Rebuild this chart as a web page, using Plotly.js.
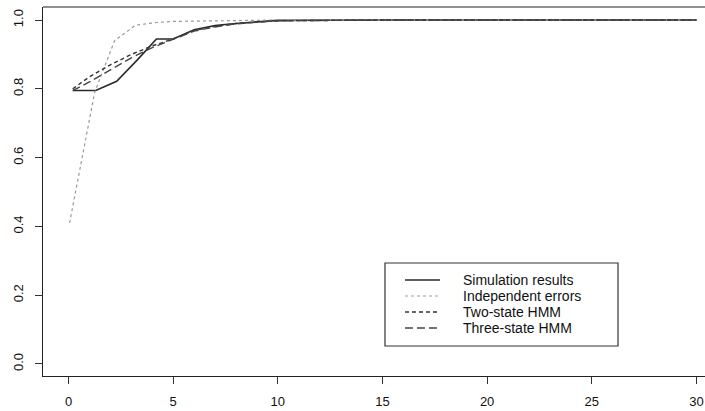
<!DOCTYPE html>
<html>
<head>
<meta charset="utf-8">
<script src="https://cdn.plot.ly/plotly-3.0.1.min.js"></script>
<style>html,body{margin:0;padding:0;background:#fff;overflow:hidden}</style>
</head>
<body>
<div id="chart" style="width:705px;height:411px"></div>
<script>
// Data
const simX = [0.2, 1.3, 2.3, 3.3, 4.2, 5.0, 6, 7, 8, 9, 10, 15, 20, 25, 30];
const simY = [0.795, 0.795, 0.822, 0.885, 0.945, 0.945, 0.972, 0.984, 0.99, 0.995, 0.999, 1.0, 1.0, 1.0, 1.0];

const indX = [0.05, 1.25, 2.2, 3.2, 4.2, 5, 6, 7, 8, 9, 10, 15, 20, 25, 30];
const indY = [0.41, 0.79, 0.94, 0.985, 0.993, 0.996, 0.997, 0.998, 0.999, 0.999, 1.0, 1.0, 1.0, 1.0, 1.0];

const hmmX = [0.2, 1, 2, 3, 4, 5, 6, 7, 8, 9, 10, 15, 20, 25, 30];
const twoY = [0.80, 0.835, 0.87, 0.90, 0.925, 0.945, 0.97, 0.982, 0.99, 0.995, 0.998, 1.0, 1.0, 1.0, 1.0];
const threeY = [0.795, 0.82, 0.855, 0.89, 0.92, 0.943, 0.968, 0.98, 0.989, 0.994, 0.998, 1.0, 1.0, 1.0, 1.0];

const names = ["Simulation results", "Independent errors", "Two-state HMM", "Three-state HMM"];
const xTicks = [0, 5, 10, 15, 20, 25, 30];
const yTicks = [0.0, 0.2, 0.4, 0.6, 0.8, 1.0];
const yTickText = ["0.0", "0.2", "0.4", "0.6", "0.8", "1.0"];

const font = {family: "Liberation Sans, Arial, sans-serif", size: 13, color: "#111"};
const legFont = {family: "Liberation Sans, Arial, sans-serif", size: 14, color: "#111"};

const styles = [
  {color: "#2a2a2a", width: 1.6, dash: "solid"},
  {color: "#999", width: 1.2, dash: "dot"},
  {color: "#333", width: 1.4, dash: "4px,3px"},
  {color: "#444", width: 1.4, dash: "8px,4px"}
];
const xs = [simX, indX, hmmX, hmmX];
const ys = [simY, indY, twoY, threeY];

const traces = names.map((n, i) => ({x: xs[i], y: ys[i], name: n, mode: "lines", line: styles[i]}));

// Manual legend (box, samples, labels) in paper coordinates
const legRows = [0.2602, 0.2168, 0.1734, 0.1301];
const shapes = [
  {type: "line", xref: "paper", yref: "paper", x0: 0, x1: 1, y0: 1, y1: 1, line: {color: "#222", width: 1.2}},
  {type: "rect", xref: "paper", yref: "paper", x0: 0.5166, x1: 0.8686, y0: 0.0813, y1: 0.3062, line: {color: "#333", width: 1.2}}
];
const annotations = [];
names.forEach((n, i) => {
  shapes.push({type: "line", xref: "paper", yref: "paper", x0: 0.5468, x1: 0.5997, y0: legRows[i], y1: legRows[i], line: styles[i]});
  annotations.push({xref: "paper", yref: "paper", x: 0.6314, y: legRows[i], xanchor: "left", yanchor: "middle",
    text: n, showarrow: false, font: legFont});
});

const layout = {
  width: 705, height: 411,
  margin: {l: 43, r: 0, t: 7, b: 35},
  paper_bgcolor: "#fff", plot_bgcolor: "#fff",
  font: font,
  showlegend: false,
  xaxis: {
    range: [-1.22, 30.41], tickvals: xTicks, ticktext: xTicks.map(String),
    showgrid: false, zeroline: false, showline: true, linecolor: "#222", linewidth: 1.2,
    ticks: "outside", ticklen: 7, tickcolor: "#333", tickwidth: 1, tickfont: font, ticklabelstandoff: 6
  },
  yaxis: {
    range: [-0.035, 1.038], tickvals: yTicks, ticktext: yTickText, tickangle: -90,
    showgrid: false, zeroline: false, showline: true, linecolor: "#222", linewidth: 1.2,
    ticks: "outside", ticklen: 7, tickcolor: "#333", tickwidth: 1, tickfont: font, ticklabelstandoff: 7
  },
  shapes: shapes,
  annotations: annotations
};

Plotly.newPlot("chart", traces, layout, {staticPlot: true, displayModeBar: false});
</script>
</body>
</html>
